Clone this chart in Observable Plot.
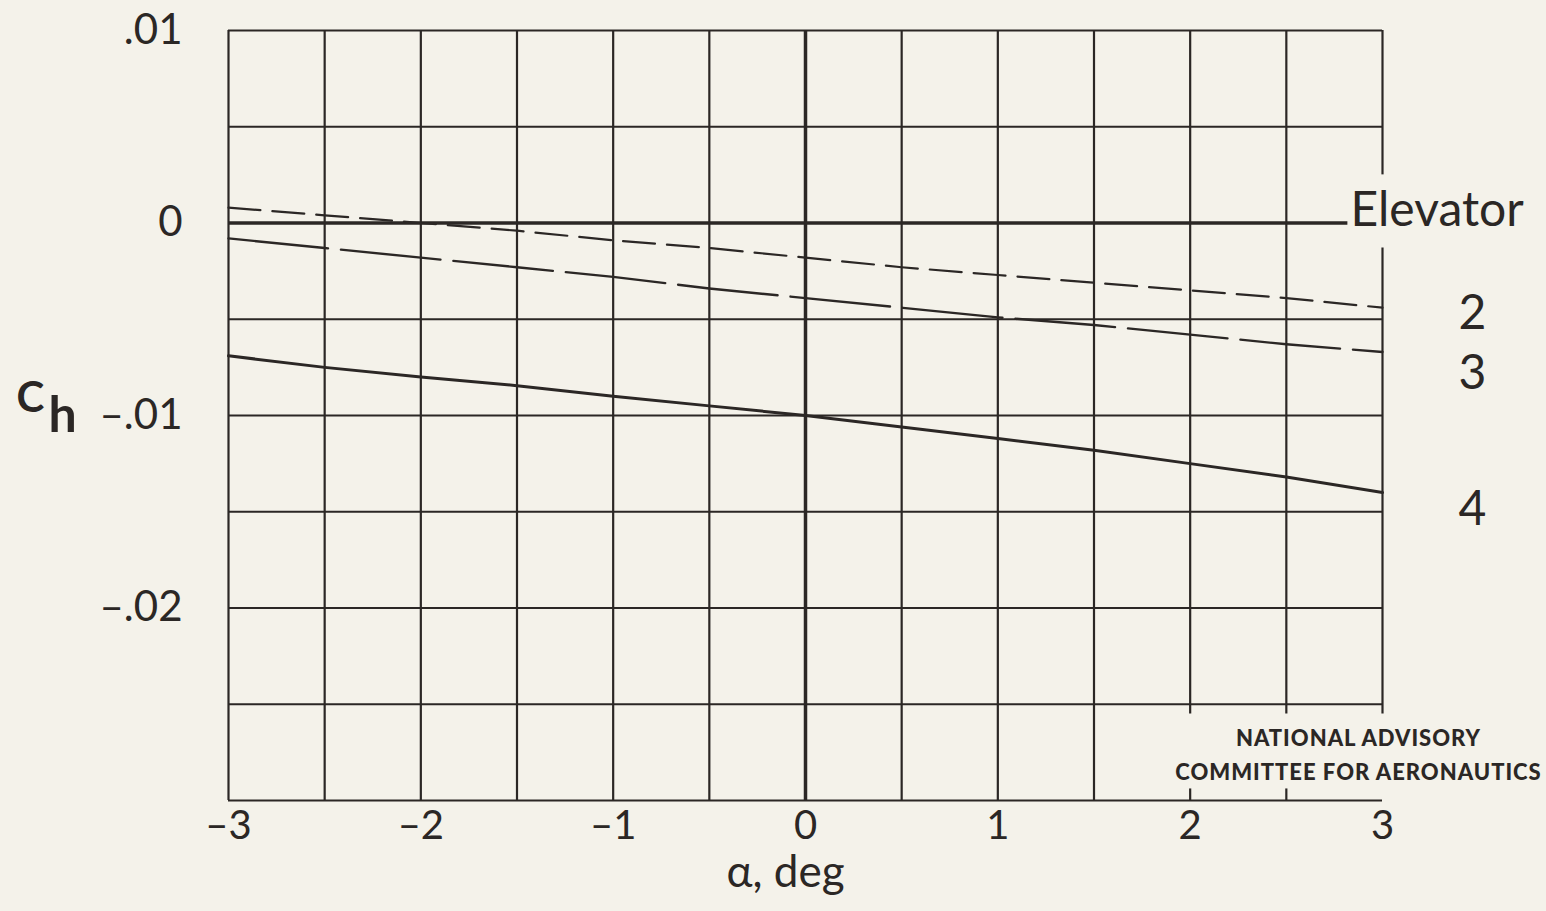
<!DOCTYPE html>
<html>
<head>
<meta charset="utf-8">
<script src="https://cdn.jsdelivr.net/npm/d3@7"></script>
<script src="https://cdn.jsdelivr.net/npm/@observablehq/plot@0.6"></script>
<style>
  html, body { margin: 0; padding: 0; background: #f4f2ea; }
  #chart { width: 1546px; height: 911px; overflow: hidden; }
</style>
</head>
<body>
<div id="chart"></div>
<script>
// ---- data ----
const alpha = [-3, -2.5, -2, -1.5, -1, -0.5, 0, 0.5, 1, 1.5, 2, 2.5, 3];
const elevator2 = [0.0008, 0.0004, 0.0000, -0.0004, -0.0009, -0.0013, -0.0018, -0.0023, -0.0027, -0.0031, -0.0035, -0.0039, -0.0044];
const elevator3 = [-0.0008, -0.0013, -0.0018, -0.0023, -0.0028, -0.0034, -0.0039, -0.0044, -0.0049, -0.0053, -0.0058, -0.0063, -0.0067];
const elevator4 = [-0.0069, -0.0075, -0.0080, -0.00845, -0.0090, -0.0095, -0.0100, -0.0106, -0.0112, -0.0118, -0.0125, -0.0132, -0.0140];

const xTicks = [-3, -2, -1, 0, 1, 2, 3];
const yTicks = [0.01, 0, -0.01, -0.02];
const xGrid = [-3, -2.5, -2, -1.5, -1, -0.5, 0, 0.5, 1, 1.5, 2, 2.5, 3];
const yGrid = [0.01, 0.005, 0, -0.005, -0.01, -0.015, -0.02, -0.025, -0.03];

const seriesLabels = ["2", "3", "4"];
const seriesLabelY = [-0.0047, -0.0078, -0.0149];
const headerLabel = "Elevator";
const leaderEnd = 2.82;            // zero line runs to the "Elevator" heading
const xTitle = "α, deg";
const yTitleMain = "C";
const yTitleSub = "h";
const credit = "NATIONAL ADVISORY\nCOMMITTEE FOR AERONAUTICS";

// gaps in the grid (around "Elevator" heading and the NACA credit)
const gaps = [
  {x: 3, from: 0.0025, to: -0.0013},
  {x: 3, from: -0.0255, to: -0.03},
  {x: 2, from: -0.0255, to: -0.0294},
  {x: 2.5, from: -0.0255, to: -0.0294}
];

// ---- build tables ----
const series = [
  ...alpha.map((a, i) => ({a, ch: elevator2[i], s: "2"})),
  ...alpha.map((a, i) => ({a, ch: elevator3[i], s: "3"})),
  ...alpha.map((a, i) => ({a, ch: elevator4[i], s: "4"}))
];
const gridTop = d3.max(yGrid), gridBottom = d3.min(yGrid);
const vSegments = [];
for (const x of xGrid) {
  let segs = [[gridTop, gridBottom]];
  for (const g of gaps.filter(g => g.x === x)) {
    const out = [];
    for (const [a, b] of segs) {
      if (g.from <= b || g.to >= a) { out.push([a, b]); continue; }
      if (g.from < a) out.push([a, g.from]);
      if (g.to > b) out.push([g.to, b]);
    }
    segs = out;
  }
  for (const [a, b] of segs) vSegments.push({x, y1: a, y2: b});
}
const hLines = yGrid.filter(y => y !== 0);

const ink = "#2b2725";
const font = "Lato, 'DejaVu Sans', sans-serif";
const fmtY = d => d === 0 ? "0" : (d < 0 ? "–" : "") + Math.abs(d).toFixed(2).replace(/^0/, "");
const fmtX = d => (d < 0 ? "–" : "") + Math.abs(d);

const chart = Plot.plot({
  width: 1546,
  height: 911,
  marginLeft: 228,
  marginRight: 164,
  marginTop: 30,
  marginBottom: 111,
  x: {domain: [-3, 3]},
  y: {domain: [-0.03, 0.01]},
  style: {background: "transparent", fontFamily: font, color: ink},
  marks: [
    Plot.ruleY(hLines, {y: d => d, x1: -3, x2: 3, stroke: ink, strokeWidth: 2.2}),
    Plot.ruleX(vSegments, {x: "x", y1: "y1", y2: "y2", stroke: ink, strokeWidth: d => d.x === 0 ? 3.5 : 2.2}),
    Plot.ruleY([0], {x1: -3, x2: leaderEnd, stroke: ink, strokeWidth: 3.5}),
    Plot.line(series.filter(d => d.s === "2"), {x: "a", y: "ch", stroke: ink, strokeWidth: 2.2, strokeDasharray: "32,12"}),
    Plot.line(series.filter(d => d.s === "3"), {x: "a", y: "ch", stroke: ink, strokeWidth: 2.4, strokeDasharray: "100,13"}),
    Plot.line(series.filter(d => d.s === "4"), {x: "a", y: "ch", stroke: ink, strokeWidth: 3}),
    Plot.axisX({ticks: xTicks, tickSize: 0, tickPadding: 10, tickFormat: fmtX, fontSize: 40, fill: ink, label: null}),
    Plot.axisY({ticks: yTicks, tickSize: 0, tickPadding: 46, tickFormat: fmtY, fontSize: 42, fill: ink, label: null}),
    Plot.text([xTitle], {frameAnchor: "bottom", dx: -20, dy: 86, fontSize: 44, fill: ink, text: d => d}),
    Plot.text([yTitleMain], {y: [-0.0091], frameAnchor: "left", dx: -212, fontSize: 42, fontWeight: "bold", fill: ink, textAnchor: "start", text: d => d}),
    Plot.text([yTitleSub], {y: [-0.01], frameAnchor: "left", dx: -180, fontSize: 50, fontWeight: "bold", fill: ink, textAnchor: "start", text: d => d}),
    Plot.text([headerLabel], {x: [3], y: [0], dx: -32, dy: -12, textAnchor: "start", fontSize: 48, fill: ink, text: d => d}),
    Plot.text(seriesLabels, {x: seriesLabels.map(() => 3), y: seriesLabelY, dx: 90, fontSize: 48, fill: ink, text: d => d}),
    Plot.text([credit], {x: [3], y: [-0.0275], dx: -24, fontSize: 22, fontWeight: "900", fill: ink, lineHeight: 1.55, text: d => d})
  ]
});
chart.querySelectorAll("text").forEach(t => {
  if (t.textContent.startsWith("NATIONAL")) t.setAttribute("letter-spacing", "1");
});
document.getElementById("chart").appendChild(chart);
</script>
</body>
</html>
